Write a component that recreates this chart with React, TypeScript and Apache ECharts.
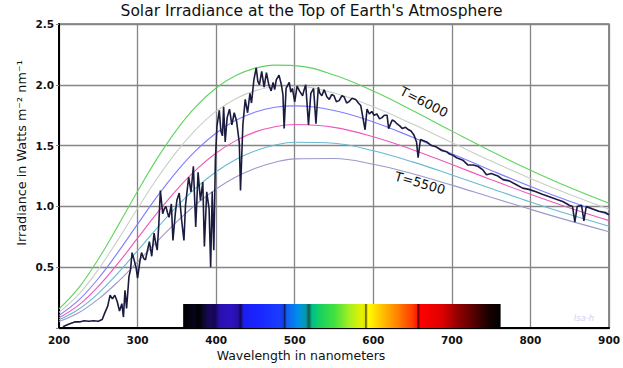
import React, { useEffect, useRef } from "react";
import * as echarts from "echarts";

// Blackbody curves at these wavelengths (nm)
const wavelengths = [200, 225, 250, 275, 300, 325, 350, 375, 400, 425, 450, 475, 500, 550, 600, 650, 700, 750, 800, 850, 900];
const bb6000 = [0.157, 0.33, 0.566, 0.84, 1.125, 1.395, 1.632, 1.826, 1.974, 2.076, 2.137, 2.162, 2.158, 2.081, 1.948, 1.788, 1.619, 1.453, 1.298, 1.155, 1.026];
const bb5900 = [0.128, 0.276, 0.481, 0.725, 0.983, 1.231, 1.453, 1.638, 1.783, 1.886, 1.952, 1.984, 1.988, 1.932, 1.819, 1.677, 1.525, 1.373, 1.23, 1.098, 0.977];
const bb5800 = [0.104, 0.229, 0.407, 0.622, 0.854, 1.082, 1.288, 1.464, 1.604, 1.708, 1.777, 1.815, 1.827, 1.788, 1.694, 1.569, 1.433, 1.296, 1.164, 1.042, 0.93];
const bb5700 = [0.084, 0.188, 0.342, 0.531, 0.739, 0.946, 1.138, 1.304, 1.439, 1.541, 1.613, 1.655, 1.673, 1.65, 1.573, 1.466, 1.344, 1.22, 1.1, 0.987, 0.883];
const bb5600 = [0.067, 0.154, 0.285, 0.451, 0.636, 0.823, 1.0, 1.156, 1.285, 1.386, 1.458, 1.505, 1.528, 1.519, 1.458, 1.366, 1.258, 1.147, 1.037, 0.933, 0.837];
const bb5500 = [0.053, 0.125, 0.237, 0.38, 0.544, 0.713, 0.875, 1.02, 1.143, 1.241, 1.314, 1.363, 1.391, 1.394, 1.347, 1.269, 1.175, 1.075, 0.976, 0.881, 0.792];
const bbColors = ["#5fd35f", "#c6d0c6", "#7e7eff", "#ee58bb", "#68bad0", "#9a9acc"];

// Measured solar spectrum (nm, W m^-2 nm^-1)
const solarWl = [
  205, 212, 220, 226, 232, 238, 244, 250, 255, 258, 262, 265, 268, 271, 274, 277, 280, 282, 284, 286, 289, 291, 293, 296, 298,
  300, 303, 305, 308, 310, 313, 315, 318, 321, 323, 325, 327, 329, 332, 334, 336, 338, 340, 343, 345, 348, 350, 353, 356, 359,
  361, 365, 368, 371, 374, 377, 380, 383, 385, 388, 391, 393, 395, 397, 399, 401, 404, 406, 408, 409.5, 411.5, 414, 417, 420, 423,
  426, 429.5, 431, 434, 437, 440, 443, 445, 448, 451, 453, 455, 458, 461, 464, 467, 470, 472.5, 474.5, 476.5, 480, 483, 485, 486.5, 489,
  493, 495, 497, 500, 503, 506, 510, 512, 514, 517.5, 520.5, 524, 527, 530, 532, 534.5, 537.5, 541, 544, 547, 550, 553, 556.5, 560, 563, 566, 569, 573, 577.5, 581, 584, 589.5,
  592, 595, 598, 601, 604.5, 608, 611, 614, 617.5, 619.5, 624, 627, 630, 634, 637, 641, 645, 648, 651.5, 655, 657, 660, 664, 668, 674, 680, 687, 693, 697, 701.5, 706, 710, 714, 720.5,
  727, 733, 739.5, 744, 750, 758.5, 765, 773, 781.5, 790, 798, 807, 815, 824, 832, 841, 849.5, 853.5, 856.5, 859.5, 865, 868,
  871, 878.5, 887, 895.5, 900,
];
const solarIrr = [
  0.01, 0.03, 0.05, 0.05, 0.06, 0.055, 0.06, 0.055, 0.07, 0.12, 0.18, 0.27, 0.24, 0.27, 0.22, 0.14, 0.2, 0.09, 0.31, 0.16, 0.42,
  0.48, 0.62, 0.55, 0.5, 0.41, 0.55, 0.62, 0.57, 0.56, 0.65, 0.71, 0.59, 0.78, 0.7, 0.64, 0.85, 1.13, 0.94, 0.98, 1.0, 0.95, 0.91,
  1.02, 0.72, 0.94, 1.05, 1.11, 0.89, 0.72, 1.01, 1.24, 1.12, 1.33, 0.83, 1.28, 1.05, 1.2, 0.67, 1.12, 0.98, 0.5, 1.12, 0.64,
  1.38, 1.66, 1.79, 1.62, 1.58, 1.82, 1.53, 1.73, 1.8, 1.67, 1.77, 1.7, 1.52, 1.13, 1.67, 1.88, 1.77, 1.93, 1.85, 2.04, 2.14, 2.03, 2.0,
  2.11, 1.98, 2.1, 2.0, 1.95, 2.02, 1.96, 2.04, 2.08, 2.0, 1.92, 1.64, 1.97, 2.02, 1.94, 1.97, 1.86, 1.99, 1.95, 1.91, 1.96, 2.0, 1.67, 1.93,
  1.97, 1.68, 1.98, 1.93, 1.91, 1.96, 1.9, 1.88, 1.92, 1.91, 1.86, 1.87, 1.91, 1.9, 1.85, 1.86, 1.89, 1.88, 1.85, 1.83, 1.63, 1.8, 1.76, 1.78, 1.75, 1.76, 1.72, 1.73, 1.75,
  1.75, 1.64, 1.71, 1.7, 1.68, 1.66, 1.64, 1.65, 1.63, 1.62, 1.59, 1.53, 1.4, 1.55, 1.54, 1.53, 1.5, 1.49, 1.46, 1.45, 1.43, 1.42, 1.4, 1.39, 1.38, 1.34, 1.34, 1.33, 1.3, 1.26, 1.27, 1.25, 1.22,
  1.21, 1.18, 1.15, 1.14, 1.12, 1.1, 1.08, 1.06, 1.04, 1.01, 1.0, 0.87, 1.0, 1.01, 0.88, 1.0, 0.98, 0.96, 0.95, 0.93,
];

// Visible spectrum strip
const stripStart = 358;
const stripEnd = 762;
const stripTop = 0.197;
const stripWl = [358, 372, 378, 384, 392, 398, 405, 420, 428, 431, 435, 450, 480, 485, 487, 490, 505, 514, 518, 522, 532, 550, 570, 586, 589, 590.5, 593, 610, 630, 650, 655, 657, 660, 688, 705, 725, 745, 762];
const stripColors = ["#000000", "#05051a", "#000000", "#0d0830", "#1a0860", "#140650", "#2a10b0", "#2d12c0", "#2410a0", "#120860", "#1a1ef0", "#1a22ff", "#1a3cff", "#1540e0", "#0a2070", "#1060f5", "#0090e8", "#089aa8", "#105a50", "#00c088", "#18d060", "#40e040", "#a8f020", "#e8f000", "#e0e000", "#484800", "#ffff00", "#ffc400", "#ff8400", "#ff3c00", "#ff1a00", "#500000", "#ff0000", "#dd0000", "#9a0000", "#600000", "#1e0000", "#000000"];

const font = "DejaVu Sans";

export default function App() {
  const ref = useRef<HTMLDivElement>(null);
  useEffect(() => {
    if (!ref.current) return;
    const chart = echarts.init(ref.current, null, { renderer: "svg" });
    const bbSets = [bb6000, bb5900, bb5800, bb5700, bb5600, bb5500];
    const bbSeries = bbSets.map((arr, k) => ({
      type: "line",
      data: wavelengths.map((w, i) => [w, arr[i]]),
      smooth: 0.4,
      showSymbol: false,
      silent: true,
      z: 2,
      lineStyle: { width: 1.1, color: bbColors[k] },
    }));
    const stops = stripWl.map((w, i) => ({
      offset: (w - stripStart) / (stripEnd - stripStart),
      color: stripColors[i],
    }));
    const option: any = {
      animation: false,
      backgroundColor: "#ffffff",
      title: {
        text: "Solar Irradiance at the Top of Earth's Atmosphere",
        left: "center",
        top: 3,
        padding: 0,
        textStyle: { fontFamily: font, fontSize: 15.5, fontWeight: "normal", color: "#111" },
      },
      grid: { left: 59, right: 9, top: 24, bottom: 40, show: true, borderColor: "#333", borderWidth: 1.2 },
      xAxis: {
        type: "value",
        min: 200,
        max: 900,
        interval: 100,
        axisLine: { show: true, onZero: false, lineStyle: { color: "#000", width: 2 } },
        axisTick: { show: false },
        axisLabel: { color: "#111", fontFamily: font, fontWeight: "bold", fontSize: 10.5, margin: 6 },
        splitLine: { show: true, lineStyle: { color: "#858585", width: 1.3 } },
      },
      yAxis: {
        type: "value",
        min: 0,
        max: 2.5,
        interval: 0.5,
        axisLine: { show: true, lineStyle: { color: "#000", width: 2 } },
        axisTick: { show: true, length: 3, lineStyle: { color: "#888" } },
        axisLabel: {
          color: "#111",
          fontFamily: font,
          fontWeight: "bold",
          fontSize: 10.5,
          margin: 5,
          formatter: (v: number) => (v === 0 ? "" : v.toFixed(1)),
        },
        splitLine: { show: true, lineStyle: { color: "#858585", width: 1.3 } },
      },
      graphic: [
        {
          type: "text",
          x: 301,
          y: 355,
          style: { text: "Wavelength in nanometers", fontFamily: font, fontSize: 12.5, fill: "#111", textAlign: "center", textVerticalAlign: "middle" },
        },
        {
          type: "text",
          x: 21,
          y: 153,
          rotation: Math.PI / 2,
          style: { text: "Irradiance in Watts m\u207B\u00B2 nm\u207B\u00B9", fontFamily: font, fontSize: 12.8, fill: "#111", textAlign: "center", textVerticalAlign: "middle" },
        },
        {
          type: "text",
          x: 424,
          y: 102,
          rotation: (-27 * Math.PI) / 180,
          style: { text: "T=6000", fontFamily: font, fontSize: 13, fill: "#111", textAlign: "center", textVerticalAlign: "middle" },
        },
        {
          type: "text",
          x: 420,
          y: 183,
          rotation: (-16 * Math.PI) / 180,
          style: { text: "T=5500", fontFamily: font, fontSize: 13, fill: "#111", textAlign: "center", textVerticalAlign: "middle" },
        },
        {
          type: "text",
          x: 584,
          y: 318,
          style: { text: "lsa-h", fontFamily: font, fontSize: 8.5, fontStyle: "italic", fill: "#d6d0ec", textAlign: "center", textVerticalAlign: "middle" },
        },
      ],
      series: [
        ...bbSeries,
        {
          type: "custom",
          z: 3,
          silent: true,
          encode: { x: [0, 1], y: 2 },
          data: [[stripStart, stripEnd, stripTop]],
          renderItem: (params: any, api: any) => {
            const p0 = api.coord([api.value(0), api.value(2)]);
            const p1 = api.coord([api.value(1), 0]);
            return {
              type: "rect",
              shape: { x: p0[0], y: p0[1], width: p1[0] - p0[0], height: p1[1] - p0[1] },
              style: { fill: new echarts.graphic.LinearGradient(0, 0, 1, 0, stops) },
            };
          },
        },
        {
          type: "line",
          data: solarWl.map((w, i) => [w, solarIrr[i]]),
          showSymbol: false,
          silent: true,
          z: 4,
          lineStyle: { width: 1.6, color: "#1b1b40" },
        },
      ],
    };
    chart.setOption(option);
    return () => chart.dispose();
  }, []);
  return <div ref={ref} style={{ width: 623, height: 368, position: "absolute", left: 0, top: 0 }} />;
}
